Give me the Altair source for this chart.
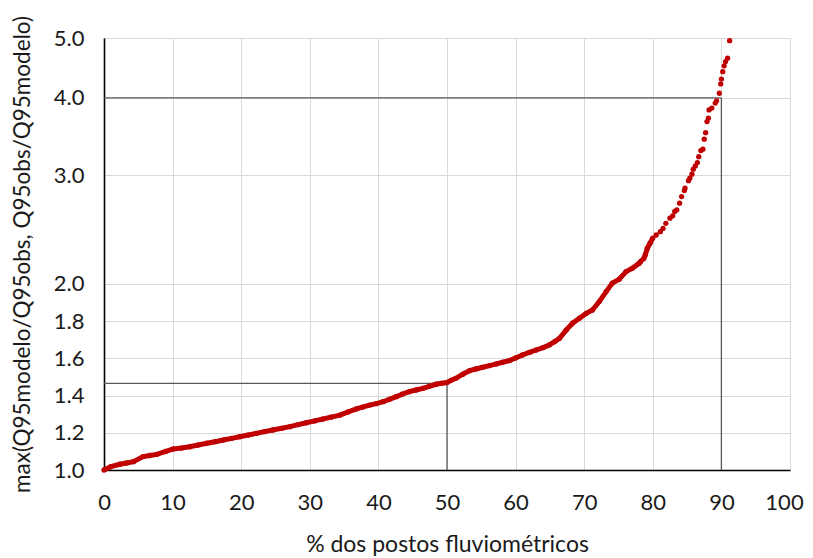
import math
import altair as alt
import pandas as pd

# % of gauging stations (x) and ratio max(Qm/Qo, Qo/Qm) (y)
pct = [0.0, 1.0, 2.3, 3.3, 4.3, 5.7, 6.7, 7.7, 9.0, 10.1, 11.3, 12.5, 13.7, 15.0, 16.2, 17.4,
       18.6, 19.8, 21.0, 22.2, 23.4, 24.6, 25.9, 27.1, 28.3, 29.5, 30.7, 31.9, 33.1, 34.4,
       35.6, 36.8, 37.7, 38.7, 39.7, 40.7, 41.6, 42.6, 43.5, 44.5, 45.5, 46.5, 47.4, 48.4,
       49.2, 50.0, 50.6, 51.3, 52.3, 53.3, 54.2, 55.2, 56.2, 57.2, 58.1, 59.1, 60.0, 61.0,
       62.0, 63.0, 64.0, 64.9, 65.7, 66.4, 67.4, 68.3, 69.3, 70.3, 71.2, 72.2, 73.2, 74.1,
       75.1, 76.1, 77.0, 78.0, 78.2, 78.7, 78.9, 79.2, 79.6, 80.0, 80.5, 81.1, 81.5, 81.9,
       82.5, 82.9, 83.2, 83.5, 83.9, 84.2, 84.6, 84.7, 85.2, 85.4, 85.7, 85.9, 86.2, 86.5,
       86.7, 87.0, 87.3, 87.5, 87.7, 87.9, 88.1, 88.2, 88.6, 89.1, 89.3, 89.7, 89.9, 90.0,
       90.2, 90.4, 90.6, 90.9, 91.2]
ratio = [1.000, 1.018, 1.031, 1.038, 1.045, 1.072, 1.078, 1.084, 1.100, 1.113, 1.118, 1.125,
         1.134, 1.144, 1.152, 1.161, 1.170, 1.179, 1.188, 1.197, 1.206, 1.215, 1.224, 1.233,
         1.244, 1.254, 1.264, 1.274, 1.284, 1.295, 1.312, 1.328, 1.338, 1.349, 1.357, 1.367,
         1.380, 1.394, 1.408, 1.421, 1.430, 1.439, 1.450, 1.461, 1.466, 1.470, 1.482, 1.493,
         1.515, 1.534, 1.543, 1.552, 1.561, 1.570, 1.579, 1.588, 1.602, 1.618, 1.632, 1.645,
         1.658, 1.672, 1.690, 1.708, 1.753, 1.789, 1.816, 1.842, 1.860, 1.905, 1.959, 2.006,
         2.035, 2.094, 2.120, 2.160, 2.173, 2.200, 2.228, 2.285, 2.328, 2.373, 2.400, 2.430,
         2.460, 2.507, 2.555, 2.578, 2.620, 2.636, 2.702, 2.769, 2.832, 2.857, 2.938, 2.965,
         3.010, 3.067, 3.104, 3.143, 3.213, 3.287, 3.304, 3.430, 3.514, 3.662, 3.708, 3.824,
         3.851, 3.923, 3.956, 4.070, 4.214, 4.290, 4.410, 4.507, 4.580, 4.638, 4.950]

# reference segments (median and 90th percentile)
ref_x = [0, 50, 0, 90]
ref_x2 = [50, 50, 90, 90]
ref_y = [1.466, 1.0, 4.0, 1.0]
ref_y2 = [1.466, 1.466, 4.0, 4.0]

y_ticks = [1.0, 1.2, 1.4, 1.6, 1.8, 2.0, 3.0, 4.0, 5.0]
x_ticks = list(range(0, 101, 10))


def axis_pos(v):
    # the chart's y axis is linear from 1 to 2 and logarithmic above 2
    return v - 1 if v <= 2 else 1 + math.log2(v / 2)


y_tick_pos = [axis_pos(v) for v in y_ticks]
t_max = axis_pos(5.0)
T = "datum.{f} <= 2 ? datum.{f} - 1 : 1 + log(datum.{f} / 2) / LN2"

df = pd.DataFrame({"pct": pct, "ratio": ratio})
ref = pd.DataFrame({"x": ref_x, "x2": ref_x2, "y": ref_y, "y2": ref_y2})

RED = "#C00000"
xscale = alt.Scale(domain=[0, 100], nice=False)
yscale = alt.Scale(domain=[0, t_max], nice=False, zero=False)

xaxis = alt.Axis(values=x_ticks, title="% dos postos fluviométricos", grid=True,
                 ticks=False, tickSize=0, labelPadding=22, titlePadding=20, format="d",
                 labelFlush=False, titleFontSize=23,
                 labelOffset=alt.condition("datum.value == 100", alt.value(-6), alt.value(0)))
yaxis = alt.Axis(values=y_tick_pos, grid=True, ticks=False, tickSize=0, labelPadding=20,
                 titlePadding=19, labelFlush=False, titleFontSize=22.5,
                 labelExpr="datum.value <= 1.0001 ? format(1 + datum.value, '.1f') : format(2 * pow(2, datum.value - 1), '.1f')",
                 title="max(Q95modelo/Q95obs, Q95obs/Q95modelo)")

base = alt.Chart(df).transform_calculate(t=T.format(f="ratio"))

line = base.transform_filter("datum.pct <= 80").mark_line(
    color=RED, strokeWidth=5
).encode(
    x=alt.X("pct:Q", scale=xscale, axis=xaxis),
    y=alt.Y("t:Q", scale=yscale, axis=yaxis),
)

points = base.mark_circle(color=RED, size=28, opacity=1).encode(
    x=alt.X("pct:Q", scale=xscale),
    y=alt.Y("t:Q", scale=yscale),
)

rules = alt.Chart(ref).transform_calculate(
    ty=T.format(f="y"), ty2=T.format(f="y2")
).mark_rule(color="#595959", strokeWidth=1.3).encode(
    x=alt.X("x:Q", scale=xscale),
    x2="x2:Q",
    y=alt.Y("ty:Q", scale=yscale),
    y2="ty2:Q",
)

chart = alt.layer(rules, line, points).properties(
    width=686, height=432,
    autosize=alt.AutoSizeParams(type="none"),
    padding={"left": 96, "top": 30, "right": 15, "bottom": 92},
).configure_view(stroke=None).configure_axis(
    domainColor="#000000", domainWidth=1.6,
    gridColor="#D9D9D9", gridWidth=1,
    labelFont="Lato", labelFontSize=22, labelColor="#1a1a1a",
    titleFont="Lato", titleFontWeight="normal", titleColor="#1a1a1a",
)

chart.save("out.html", embed_options={"renderer": "svg", "actions": False})
